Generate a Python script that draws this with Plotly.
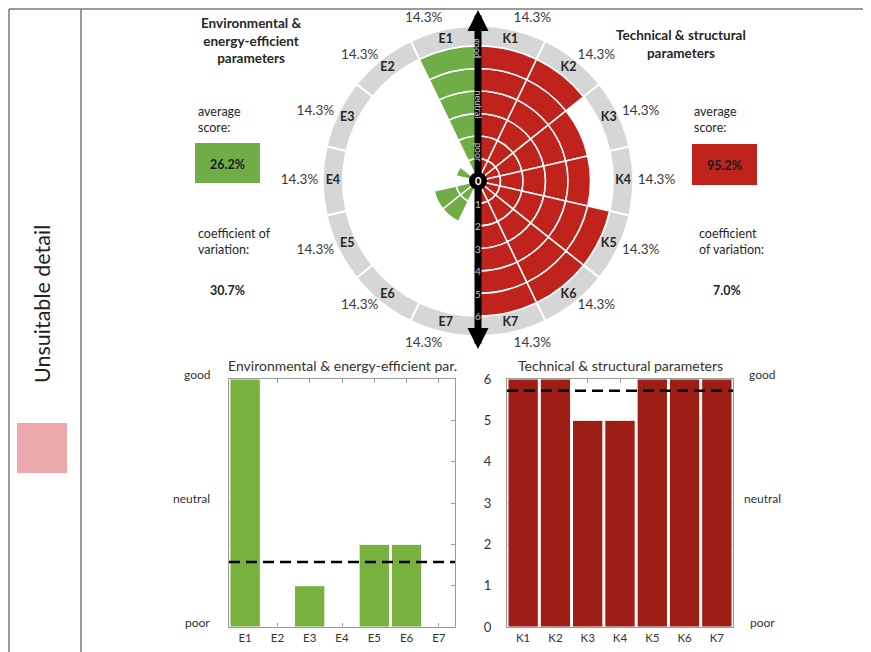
import numpy as np
import plotly.graph_objects as go

# ---- data ----
env_labels = ["E1", "E2", "E3", "E4", "E5", "E6", "E7"]
env_scores = [6, 0, 1, 0, 2, 2, 0]
tech_labels = ["K1", "K2", "K3", "K4", "K5", "K6", "K7"]
tech_scores = [6, 6, 5, 5, 6, 6, 6]
env_weights = [14.3, 14.3, 14.3, 14.3, 14.3, 14.3, 14.3]
tech_weights = [14.3, 14.3, 14.3, 14.3, 14.3, 14.3, 14.3]
env_avg, env_cv = 26.2, 30.7
tech_avg, tech_cv = 95.2, 7.0
scale_labels = ["poor", "neutral", "good"]
scale_values = [0, 3, 6]
radial_ticks = [1, 2, 3, 4, 5, 6]

GREEN = "#70ad47"
RED = "#c0231b"
BAR_GREEN = "#78b13e"
BAR_RED = "#9c1e14"
RING = "#d6d6d6"
FONT = "Lato"
TXT = "#262626"

# the page body adds an 8px offset, so the figure is a bit smaller than the window
OX, OY = 8, 8
FW, FH = 863, 644
cx, cy = 478, 181          # centre of the rose on screen
unit = 22.5                # pixels per score point
rmax = 7.3


def px(x):
    return (x - OX) / FW


def py(y):
    return 1 - (y - OY) / FH


R = rmax * unit
sector = 360 / 14
tech_theta = [(i + 0.5) * sector for i in range(7)]
env_theta = [360 - (i + 0.5) * sector for i in range(7)]

fig = go.Figure()

# grey outer ring
fig.add_trace(go.Barpolar(
    r=[0.9] * 14, base=6, theta=tech_theta + env_theta, width=sector,
    marker=dict(color=RING, line=dict(color="white", width=2)), hoverinfo="skip"))

# score sectors, one unit per segment so the white grid shows
for lvl in range(1, 7):
    for theta, scores, col in ((env_theta, env_scores, GREEN), (tech_theta, tech_scores, RED)):
        th = [t for t, s in zip(theta, scores) if s >= lvl]
        if th:
            fig.add_trace(go.Barpolar(
                r=[1] * len(th), base=lvl - 1, theta=th, width=sector,
                marker=dict(color=col, line=dict(color="white", width=1.5)),
                hoverinfo="skip"))

fig.add_trace(go.Scatterpolar(
    r=[6.45] * 14, theta=tech_theta + env_theta, mode="text",
    text=["<b>%s</b>" % t for t in tech_labels + env_labels],
    textfont=dict(family=FONT, size=12.5, color=TXT), cliponaxis=False, hoverinfo="skip"))

pct_pos = (["top right"] + ["middle right"] * 5 + ["bottom right"]
           + ["top left"] + ["middle left"] * 5 + ["bottom left"])
fig.add_trace(go.Scatterpolar(
    r=[7.1] * 14, theta=tech_theta + env_theta, mode="text",
    text=["%.1f%%" % w for w in tech_weights + env_weights], textposition=pct_pos,
    textfont=dict(family=FONT, size=13.5, color="#3a3a3a"), cliponaxis=False, hoverinfo="skip"))

# bar charts
fig.add_trace(go.Bar(x=env_labels, y=env_scores, marker=dict(color=BAR_GREEN, line=dict(color="white", width=1)),
                     xaxis="x", yaxis="y", hoverinfo="skip"))
fig.add_trace(go.Bar(x=tech_labels, y=tech_scores, marker=dict(color=BAR_RED, line=dict(color="white", width=1)),
                     xaxis="x2", yaxis="y2", hoverinfo="skip"))

axis_style = dict(showline=True, mirror="ticks", linecolor="#9a9a9a", linewidth=1, ticks="inside",
                  ticklen=4, tickcolor="#9a9a9a", showgrid=False, zeroline=False, layer="below traces",
                  fixedrange=True, automargin=False)

fig.update_layout(
    width=FW, height=FH, margin=dict(l=0, r=0, t=0, b=0, pad=0), autosize=False,
    paper_bgcolor="white", plot_bgcolor="white", showlegend=False,
    bargap=0.06,
    font=dict(family=FONT, color=TXT),
    polar=dict(
        domain=dict(x=[px(cx - R), px(cx + R)], y=[py(cy + R), py(cy - R)]),
        bgcolor="white", barmode="overlay",
        radialaxis=dict(range=[0, rmax], visible=False),
        angularaxis=dict(rotation=90, direction="clockwise", visible=False),
    ),
    xaxis=dict(domain=[px(229), px(455)], anchor="y", range=[-0.5, 6.5],
               tickfont=dict(size=11.5, color="#333"), **axis_style),
    yaxis=dict(domain=[py(627), py(379)], anchor="x", range=[0, 6], dtick=1,
               showticklabels=False, **axis_style),
    xaxis2=dict(domain=[px(507), px(733)], anchor="y2", range=[-0.5, 6.5],
                tickfont=dict(size=11.5, color="#333"), **axis_style),
    yaxis2=dict(domain=[py(627), py(379)], anchor="x2", range=[0, 6], dtick=1,
                tickfont=dict(size=13, color="#333"), ticklabelstandoff=12, **axis_style),
)

shapes = []
annotations = []


def note(text, x, y, size=12.5, color=TXT, xanchor="center", align="center", **kw):
    annotations.append(dict(text=text, xref="paper", yref="paper", x=px(x), y=py(y),
                            xanchor=xanchor, yanchor="middle", align=align, showarrow=False,
                            font=dict(size=size, color=color), **kw))


# frame lines
frame = dict(color="#7a7a7a", width=1.5)
shapes.append(dict(type="line", xref="paper", yref="paper", x0=px(9), x1=1, y0=py(9), y1=py(9), line=frame))
shapes.append(dict(type="line", xref="paper", yref="paper", x0=px(9), x1=px(9), y0=py(9), y1=0, line=frame))
shapes.append(dict(type="line", xref="paper", yref="paper", x0=px(81), x1=px(81), y0=py(9), y1=0, line=frame))
shapes.append(dict(type="rect", xref="paper", yref="paper", x0=px(17), x1=px(67), y0=py(473), y1=py(423),
                   fillcolor="#eba9ab", line=dict(width=0)))
note("Unsuitable detail", 42, 304, size=21.5, color="#222", textangle=-90)

# mean lines
shapes.append(dict(type="line", xref="x domain", yref="y", x0=0, x1=1,
                   y0=np.mean(env_scores), y1=np.mean(env_scores),
                   line=dict(color="black", width=2.5, dash="11px,6px")))
shapes.append(dict(type="line", xref="x2 domain", yref="y2", x0=0, x1=1,
                   y0=np.mean(tech_scores), y1=np.mean(tech_scores),
                   line=dict(color="black", width=2.5, dash="11px,6px")))

# bar chart titles and scale words
annotations.append(dict(text="Environmental & energy-efficient par.", xref="x domain", yref="y domain",
                        x=0.5, y=1, xanchor="center", yanchor="bottom", yshift=3, showarrow=False,
                        font=dict(size=14, color="#333")))
annotations.append(dict(text="Technical & structural parameters", xref="x2 domain", yref="y2 domain",
                        x=0.5, y=1, xanchor="center", yanchor="bottom", yshift=3, showarrow=False,
                        font=dict(size=14, color="#333")))
for lab, val in zip(scale_labels, scale_values):
    annotations.append(dict(text=lab, xref="x domain", yref="y", x=-0.075, y=val, xanchor="right",
                            yanchor="middle", yshift=5, showarrow=False, font=dict(size=12, color="#333")))
    annotations.append(dict(text=lab, xref="x2 domain", yref="y2", x=1.13, y=val, xanchor="center",
                            yanchor="middle", yshift=5, showarrow=False, font=dict(size=12, color="#333")))

# black vertical axis through the rose
shapes.append(dict(type="line", xref="paper", yref="paper", x0=px(cx), x1=px(cx),
                   y0=py(cy - 152), y1=py(cy + 150), line=dict(color="black", width=7)))
shapes.append(dict(type="circle", xref="paper", yref="paper", xsizemode="pixel", ysizemode="pixel",
                   xanchor=px(cx), yanchor=py(cy), x0=-9, x1=9, y0=-9, y1=9,
                   fillcolor="black", line=dict(width=0)))
annotations.append(dict(text="", x=px(cx), y=py(cy - 171), xref="paper", yref="paper",
                        ax=0, ay=22, showarrow=True, arrowhead=2, arrowsize=0.6, arrowwidth=7,
                        arrowcolor="black", standoff=0))
annotations.append(dict(text="", x=px(cx), y=py(cy + 168), xref="paper", yref="paper",
                        ax=0, ay=-22, showarrow=True, arrowhead=2, arrowsize=0.6, arrowwidth=7,
                        arrowcolor="black", standoff=0))
note("<b>0</b>", cx, cy, size=11, color="white")
for k in radial_ticks:
    note(str(k), cx, cy + k * unit, size=10, color="#c8c8c8")
for lab, r in zip(scale_labels, [1.3, 3.4, 5.9]):
    note(lab, cx, cy - r * unit, size=9, color="#d0d0d0", textangle=90)

# side texts
note("<b>Environmental &<br>energy-efficient<br>parameters</b>", 251, 41, size=13.5)
note("<b>Technical & structural<br>parameters</b>", 681, 44, size=13.5)
note("average<br>score:", 196, 119, xanchor="left", align="left")
note("average<br>score:", 692, 119, xanchor="left", align="left")
shapes.append(dict(type="rect", xref="paper", yref="paper", x0=px(195), x1=px(260), y0=py(183), y1=py(143),
                   fillcolor=GREEN, line=dict(width=0)))
shapes.append(dict(type="rect", xref="paper", yref="paper", x0=px(692), x1=px(757), y0=py(185), y1=py(144),
                   fillcolor=RED, line=dict(width=0)))
note("<b>%.1f%%</b>" % env_avg, 227, 164, color="#1a1a1a")
note("<b>%.1f%%</b>" % tech_avg, 724, 165, color="#1a1a1a")
note("coefficient of<br>variation:", 196, 242, xanchor="left", align="left")
note("coefficient<br>of variation:", 697, 242, xanchor="left", align="left")
note("<b>%.1f%%</b>" % env_cv, 227, 290)
note("<b>%.1f%%</b>" % tech_cv, 727, 290)

fig.update_layout(shapes=shapes, annotations=annotations)

fig.write_html("out.html")
